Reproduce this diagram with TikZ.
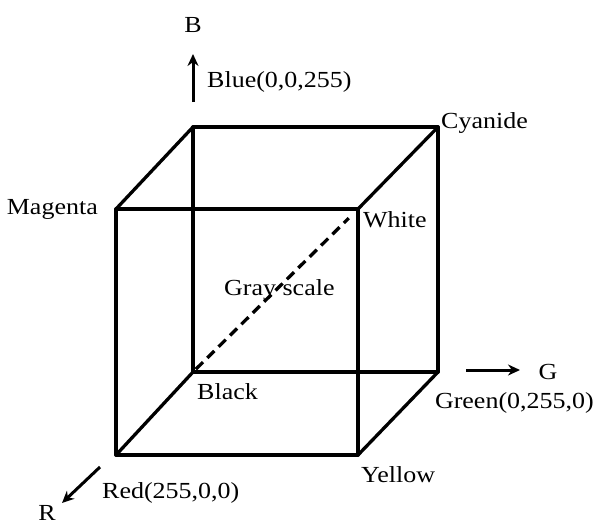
\documentclass[tikz,border=0pt]{standalone}
\usepackage{fontspec}
\setmainfont[FakeStretch=1.13]{Liberation Serif}
\usetikzlibrary{arrows.meta}

\tikzset{
    edgeline/.style={line width=3.3pt, line cap=round},
    axisarrow/.style={line width=3pt, -{Stealth[length=12pt,width=11pt]}},
    lbl/.style={inner sep=0pt, font=\fontsize{23}{26}\selectfont}
}

\begin{document}
\begin{tikzpicture}[x=1pt,y=-1pt]
                        \useasboundingbox (0,0) rectangle (596,525);

                        % corners of the cube
                        \foreach \n/\x/\y in {%
                            k/193/372,
                            r/116/455,
                            yl/358/455,
                            g/438/372,
                            b/193/127,
                            m/116/209,
                            w/358/209,
                            c/438/127%
                            }{
                            \coordinate (\n) at (\x,\y);
                        }

                        \foreach \u/\v in {%
                            b/c, c/g, g/k, k/b,
                            m/w, w/yl, yl/r, r/m,
                            b/m, c/w, g/yl, k/r%
                            }{
                            \draw[edgeline] (\u) -- (\v);
                        }

                        % gray scale diagonal
                        \draw[line width=3.3pt, dash pattern=on 10pt off 6pt, shorten <=4pt, shorten >=13pt] (k) -- (w);

                        % axes
                        \coordinate (bt) at (193,102);
                        \coordinate (bh) at (193,54);
                        \coordinate (gt) at (466,370);
                        \coordinate (gh) at (520,370);
                        \coordinate (rt) at (100,467);
                        \coordinate (rh) at (62,503);
                        \draw[axisarrow] (bt) -- (bh);
                        \draw[axisarrow] (gt) -- (gh);
                        \draw[axisarrow] (rt) -- (rh);

                        % labels
                        \node[lbl, anchor=base] (labB) at (193,32) {B};
                        \node[lbl, anchor=base west] (labBlue) at (207,87) {Blue(0,0,255)};
                        \node[lbl, anchor=base west] (labC) at (441,128) {Cyanide};
                        \node[lbl, anchor=base east] (labM) at (98,214) {Magenta};
                        \node[lbl, anchor=base west] (labW) at (363,227) {White};
                        \node[lbl, anchor=base west] (labGray) at (224,295) {Gray scale};
                        \node[lbl, anchor=base west] (labK) at (197,399) {Black};
                        \node[lbl, anchor=base] (labG) at (548,379) {G};
                        \node[lbl, anchor=base east] (labGreen) at (594,408) {Green(0,255,0)};
                        \node[lbl, anchor=base west] (labY) at (361,482) {Yellow};
                        \node[lbl, anchor=base west] (labRed) at (102,498) {Red(255,0,0)};
                        \node[lbl, anchor=base] (labR) at (47,520) {R};

                    \end{tikzpicture}
\end{document}
